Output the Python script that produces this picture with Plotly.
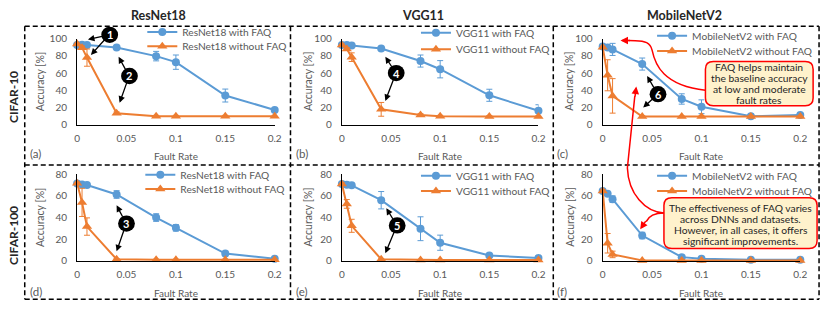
import math
import plotly.graph_objects as go

W, H = 830, 311
def px(x): return x / W
def py(y): return 1 - y / H

FONT = "Lato"
BLUE = "#5B9BD5"
ORANGE = "#ED7D31"
GREY = "#595959"

# ---------------- data ----------------
fault_rate = [0, 0.005, 0.01, 0.04, 0.08, 0.1, 0.15, 0.2]
x_tick_vals = [0, 0.05, 0.1, 0.15, 0.2]
x_tick_text = ["0", "0.05", "0.1", "0.15", "0.2"]
y_tick_vals_c10 = [0, 20, 40, 60, 80, 100]
y_tick_vals_c100 = [0, 20, 40, 60, 80]

models = ["ResNet18", "VGG11", "MobileNetV2"]
legend_models = ["ResNet18", "VGG11", "MobileNetV2"]
datasets = ["CIFAR-10", "CIFAR-100"]
panel_labels = ["(a)", "(b)", "(c)", "(d)", "(e)", "(f)"]

# CIFAR-10 accuracy [%]
resnet18_c10_faq = [92.6, 93.0, 92.5, 89.7, 79.7, 72.7, 34.0, 17.3]
resnet18_c10_faq_err = [1, 1, 1, 1.5, 5.5, 8.3, 7.5, 1.5]
resnet18_c10_nofaq = [93.7, 89.5, 78.0, 13.5, 10.0, 10.0, 10.0, 10.0]
resnet18_c10_nofaq_err = [1, 2, 10, 1.5, 1, 1, 1, 1]

vgg11_c10_faq = [92.6, 92.6, 92.0, 88.6, 74.0, 64.5, 34.3, 16.3]
vgg11_c10_faq_err = [1, 1, 1, 1, 7, 10, 7, 7]
vgg11_c10_nofaq = [92.6, 88.0, 78.5, 18.0, 11.4, 10.0, 9.6, 9.6]
vgg11_c10_nofaq_err = [1, 1.5, 5, 8, 1.5, 1, 1, 1]

mbv2_c10_faq = [90.8, 89.7, 87.5, 70.5, 30.0, 21.0, 10.0, 11.4]
mbv2_c10_faq_err = [1, 1, 7, 7, 6, 8, 1, 1]
mbv2_c10_nofaq = [90.0, 57.5, 33.6, 9.6, 9.6, 9.8, 9.6, 9.6]
mbv2_c10_nofaq_err = [1, 18, 20, 1, 0.5, 0.5, 0.5, 0.5]

# CIFAR-100 accuracy [%]
resnet18_c100_faq = [71.4, 70.5, 70.0, 61.3, 40.0, 30.5, 6.8, 2.0]
resnet18_c100_faq_err = [1, 1, 1.5, 3.5, 3.5, 3, 1, 1]
resnet18_c100_nofaq = [71.7, 54.0, 31.7, 1.5, 1.0, 1.0, 1.0, 1.0]
resnet18_c100_nofaq_err = [1, 13, 8, 0.5, 0.5, 0.5, 0.5, 0.5]

vgg11_c100_faq = [70.9, 70.3, 69.7, 56.0, 29.7, 16.8, 5.0, 2.6]
vgg11_c100_faq_err = [1, 1, 1, 8, 11, 7, 1, 1]
vgg11_c100_nofaq = [70.9, 52.6, 32.4, 1.5, 0.8, 0.8, 0.8, 0.8]
vgg11_c100_nofaq_err = [1, 4, 6, 0.5, 0.5, 0.5, 0.5, 0.5]

mbv2_c100_faq = [64.6, 62.0, 57.0, 23.4, 3.5, 2.0, 1.2, 1.2]
mbv2_c100_faq_err = [1, 1, 3, 3, 1, 0.5, 0.5, 0.5]
mbv2_c100_nofaq = [64.6, 16.3, 6.0, 0.5, 0.5, 0.5, 0.5, 0.5]
mbv2_c100_nofaq_err = [1, 9, 3, 0.5, 0.5, 0.5, 0.5, 0.5]

panels = [
    [(resnet18_c10_faq, resnet18_c10_faq_err, resnet18_c10_nofaq, resnet18_c10_nofaq_err),
     (vgg11_c10_faq, vgg11_c10_faq_err, vgg11_c10_nofaq, vgg11_c10_nofaq_err),
     (mbv2_c10_faq, mbv2_c10_faq_err, mbv2_c10_nofaq, mbv2_c10_nofaq_err)],
    [(resnet18_c100_faq, resnet18_c100_faq_err, resnet18_c100_nofaq, resnet18_c100_nofaq_err),
     (vgg11_c100_faq, vgg11_c100_faq_err, vgg11_c100_nofaq, vgg11_c100_nofaq_err),
     (mbv2_c100_faq, mbv2_c100_faq_err, mbv2_c100_nofaq, mbv2_c100_nofaq_err)],
]

# ---------------- geometry (pixels) ----------------
col_px = [(75, 275), (343, 542), (607, 807)]
row_px = [(33, 123), (174.5, 265)]
legend_pos = [[(181, 26, 41), (458, 27, 44), (697, 30, 46)],
              [(179, 175, 190), (458, 176, 192), (697, 176, 192)]]
ytitle_x = [37, 308, 573]
xtitle_x = [175, 442, 707]
xtitle_y = [156, 298]
plabel_x = [25, 295, 559]
plabel_y = [153, 297]
coltitle_x = [157, 425, 690]
rowlabel_y = [94, 238]

fig = go.Figure()
layout = dict(
    width=W, height=H, margin=dict(l=0, r=0, t=0, b=0),
    paper_bgcolor="white", plot_bgcolor="rgba(0,0,0,0)",
    font=dict(family=FONT, color=GREY), showlegend=True,
)
annotations = []
shapes = []

def label(x, y, text, size=11, color=GREY, angle=0, xanchor="center"):
    return dict(x=px(x), y=py(y), xref="paper", yref="paper", text=text, textangle=angle,
                showarrow=False, xanchor=xanchor, yanchor="middle",
                font=dict(family=FONT, size=size, color=color))

def arrow(tip, tail, color, width):
    (tx, ty), (sx, sy) = tip, tail
    return dict(x=px(tx), y=py(ty), ax=sx - tx, ay=sy - ty, xref="paper", yref="paper",
                axref="pixel", ayref="pixel", text=" ", font=dict(size=1),
                showarrow=True, arrowhead=2, arrowsize=1, arrowwidth=width, arrowcolor=color,
                standoff=0, startstandoff=0, borderpad=0)

legend_idx = 0
for r in range(2):
    for c in range(3):
        n = r * 3 + c + 1
        sfx = "" if n == 1 else str(n)
        faq, faq_err, nofaq, nofaq_err = panels[r][c]
        for kind, ys, err, color, sym, ty in [
            ("with FAQ", faq, faq_err, BLUE, "circle", legend_pos[r][c][1]),
            ("without FAQ", nofaq, nofaq_err, ORANGE, "triangle-up", legend_pos[r][c][2]),
        ]:
            legend_idx += 1
            lk = "legend" if legend_idx == 1 else f"legend{legend_idx}"
            fig.add_trace(go.Scatter(
                x=fault_rate, y=ys, mode="lines+markers",
                name=f"{legend_models[c]} {kind}",
                line=dict(color=color, width=2),
                marker=dict(symbol=sym, size=8 if sym == "circle" else 9, color=color),
                error_y=dict(type="data", array=err, color=color, thickness=1, width=3),
                xaxis=f"x{sfx}", yaxis=f"y{sfx}", legend=lk, cliponaxis=False,
            ))
            layout[lk] = dict(
                x=px(legend_pos[r][c][0] - 40), y=py(ty), xanchor="left", yanchor="middle",
                bgcolor="rgba(0,0,0,0)", borderwidth=0,
                font=dict(family=FONT, size=10.2, color=GREY),
            )
        x0, x1 = col_px[c]
        y0, y1 = row_px[r]
        layout[f"xaxis{sfx}"] = dict(
            domain=[px(x0), px(x1)], range=[0, 0.2], anchor=f"y{sfx}",
            showline=True, linecolor="#000000", linewidth=1.2, showgrid=False, zeroline=False,
            tickvals=x_tick_vals, ticktext=x_tick_text, ticks="",
            tickfont=dict(family=FONT, size=10, color=GREY), ticklabelstandoff=4,
        )
        layout[f"yaxis{sfx}"] = dict(
            domain=[py(y1), py(y0)], range=[0, 100 if r == 0 else 80], anchor=f"x{sfx}",
            showline=True, linecolor="#000000", linewidth=1.2, showgrid=False, zeroline=False,
            tickvals=y_tick_vals_c10 if r == 0 else y_tick_vals_c100, ticks="",
            tickfont=dict(family=FONT, size=10, color=GREY), ticklabelstandoff=7,
        )
        annotations.append(label(ytitle_x[c], (y0 + y1) / 2, "Accuracy [%]", size=10.5, angle=-90))
        annotations.append(label(xtitle_x[c], xtitle_y[r], "Fault Rate", size=10))
        annotations.append(label(plabel_x[c], plabel_y[r], panel_labels[n - 1], size=11.5, xanchor="left"))

for c in range(3):
    annotations.append(label(coltitle_x[c], 9, f"<b>{models[c]}</b>", size=12.5, color="#262626"))
for r in range(2):
    annotations.append(label(10, rowlabel_y[r], f"<b>{datasets[r]}</b>", size=12, color="#262626", angle=-90))

dash_line = dict(color="#000000", width=1.5, dash="5px,3px")
for yy in [20, 165, 305]:
    shapes.append(dict(type="line", xref="paper", yref="paper", x0=px(22), x1=px(826),
                       y0=py(yy), y1=py(yy), line=dash_line))
for xx in [22, 291, 557, 826]:
    shapes.append(dict(type="line", xref="paper", yref="paper", x0=px(xx), x1=px(xx),
                       y0=py(20), y1=py(305), line=dash_line))

markers = [
    ("1", (108, 29), [(86, 34), (89, 50)]),
    ("2", (128, 72), [(117, 52), (118, 100)]),
    ("3", (125, 226), [(115, 207), (115, 255)]),
    ("4", (398, 69), [(387, 52), (387, 98)]),
    ("5", (399, 228), [(388, 210), (387, 257)]),
    ("6", (663, 91), [(652, 72), (648, 105)]),
]
R = 8.5
for lab, (cx, cy), tips in markers:
    for (tx, ty) in tips:
        dx, dy = tx - cx, ty - cy
        d = math.hypot(dx, dy)
        sx, sy = cx + dx / d * (R - 1), cy + dy / d * (R - 1)
        annotations.append(arrow((tx, ty), (sx, sy), "#000000", 1.3))
    shapes.append(dict(type="circle", xref="paper", yref="paper", x0=px(cx - R), x1=px(cx + R),
                       y0=py(cy + R), y1=py(cy - R), fillcolor="#000000", line=dict(color="#000000", width=0)))
    annotations.append(label(cx, cy, f"<b>{lab}</b>", size=11, color="white"))

def rounded_rect(x0, y0, x1, y1, rad):
    P = lambda x, y: f"{px(x)},{py(y)}"
    return (f"M {P(x0 + rad, y0)} L {P(x1 - rad, y0)} Q {P(x1, y0)} {P(x1, y0 + rad)} "
            f"L {P(x1, y1 - rad)} Q {P(x1, y1)} {P(x1 - rad, y1)} L {P(x0 + rad, y1)} "
            f"Q {P(x0, y1)} {P(x0, y1 - rad)} L {P(x0, y0 + rad)} Q {P(x0, y0)} {P(x0 + rad, y0)} Z")

def path_px(cmds):
    out = []
    for cmd in cmds:
        if isinstance(cmd, str):
            out.append(cmd)
        else:
            out.append(f"{px(cmd[0])},{py(cmd[1])}")
    return " ".join(out)

RED = "#FF0000"
shapes.append(dict(type="path", xref="paper", yref="paper", line=dict(color=RED, width=1.5),
                   path=path_px(["M", (711, 87), "C", (668, 82), (660, 60), (657, 45),
                                 "C", (655, 37), (650, 35.5), (640, 35.2), "L", (633, 35)])))
shapes.append(dict(type="path", xref="paper", yref="paper", line=dict(color=RED, width=1.5),
                   path=path_px(["M", (669, 215), "C", (650, 214), (633, 195), (632, 168),
                                 "L", (639.5, 93)])))
shapes.append(dict(type="path", xref="paper", yref="paper", line=dict(color=RED, width=1.5),
                   path=path_px(["M", (669, 215), "Q", (655, 215), (651, 224)])))
for tip, tail in [((625, 35), (635, 35)), ((641, 83), (639.6, 94)), ((645, 232), (651, 223))]:
    annotations.append(arrow(tip, tail, RED, 1.5))

callouts = [
    ((711, 57, 820, 103), ["FAQ helps maintain", "the baseline accuracy", "at low and moderate", "fault rates"],
     [63, 74.5, 86, 97]),
    ((669, 199, 824, 252), ["The effectiveness of FAQ varies", "across DNNs and datasets.",
                            "However, in all cases, it offers", "significant improvements."],
     [210, 221.5, 233, 244.5]),
]
for (x0, y0, x1, y1), lines, ys in callouts:
    shapes.append(dict(type="path", xref="paper", yref="paper", path=rounded_rect(x0, y0, x1, y1, 8),
                       fillcolor="#FFF2CC", line=dict(color=RED, width=1.5)))
    for t, yy in zip(lines, ys):
        annotations.append(label((x0 + x1) / 2, yy, t, size=10.3, color="#262626"))

layout["annotations"] = annotations
layout["shapes"] = shapes
fig.update_layout(**layout)
fig.write_html("out.html", config={"displayModeBar": False},
               post_script="document.body.style.margin='0';")
